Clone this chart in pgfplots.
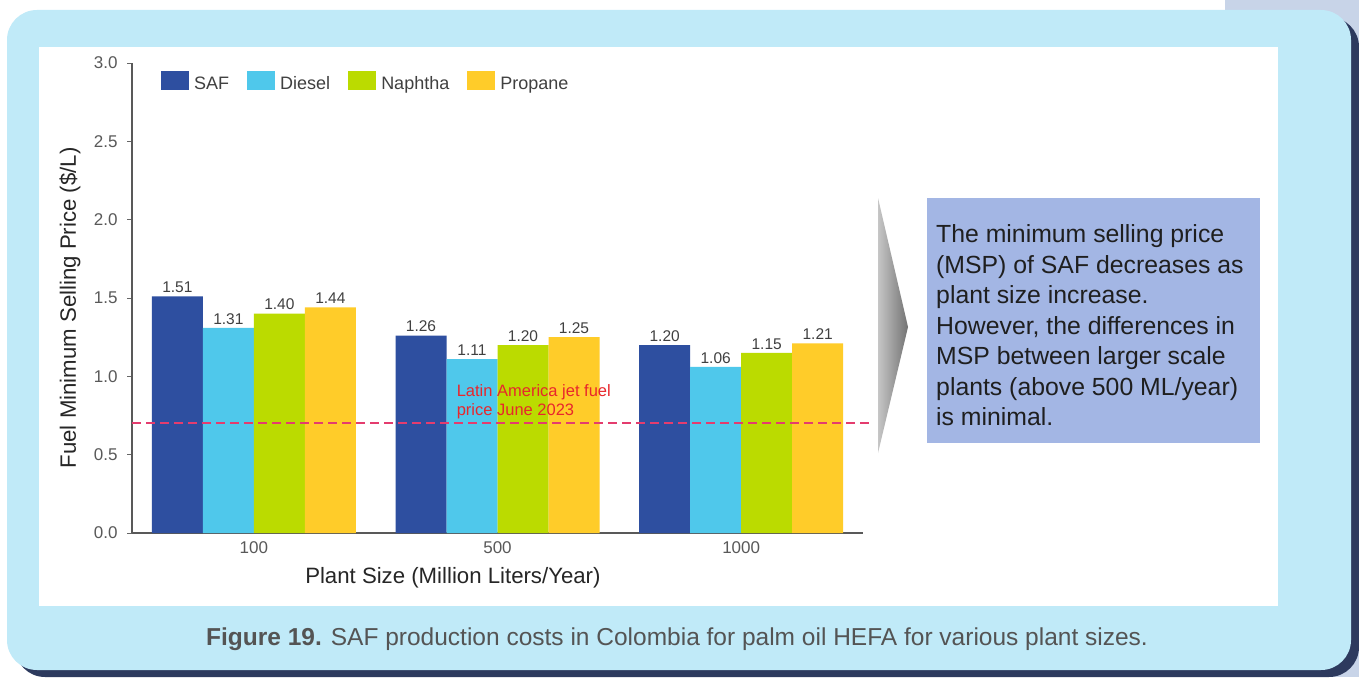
\documentclass[border=0pt]{standalone}
\usepackage{fontspec}
\setmainfont{Liberation Sans}
\usepackage{pgfplots}
\pgfplotsset{compat=1.18}
\definecolor{saf}{HTML}{2E4FA0}
\definecolor{diesel}{HTML}{4FC8EB}
\definecolor{naphtha}{HTML}{BBDB00}
\definecolor{propane}{HTML}{FFCC29}
\definecolor{panel}{HTML}{C0EAF8}
\definecolor{shadow}{HTML}{2D3A5E}
\definecolor{lav}{HTML}{C8D4E8}
\definecolor{boxblue}{HTML}{A3B6E4}
\definecolor{jetred}{HTML}{E8262C}
\definecolor{dashred}{RGB}{228,60,110}
\newcommand\fs[2]{\fontsize{#1}{#2}\selectfont}

% one style per series: explicit shift, value label on top, square legend patch
\pgfplotsset{
  bars/.style 2 args={
    ybar, bar width=51pt, bar shift=#2, fill=#1, draw=none,
    nodes near coords,
    nodes near coords style={font=\fs{15.5}{16}, text=black!75, xshift=#2,
      /pgf/number format/fixed, /pgf/number format/fixed zerofill,
      /pgf/number format/precision=2},
    legend image code/.code={\path[fill=#1] (0pt,-6pt) rectangle (28pt,13pt);}
  }
}

\begin{document}
\begin{tikzpicture}
\useasboundingbox (0,0) rectangle (1359pt,-677pt);
\fill[white] (0,0) rectangle (1359pt,-677pt);
\fill[lav] (1225pt,0) rectangle (1359pt,-677pt);
\fill[shadow, rounded corners=30pt] (15pt,-17pt) rectangle (1359pt,-677pt);
\fill[panel, rounded corners=30pt] (7pt,-10pt) rectangle (1351pt,-670pt);
\fill[white] (39pt,-47pt) rectangle (1278pt,-606pt);

\begin{axis}[
  at={(132pt,-533pt)}, anchor=south west,
  scale only axis, width=731pt, height=470pt,
  xmin=-0.5, xmax=2.5, ymin=0, ymax=3,
  axis x line*=bottom, axis y line*=left,
  axis line style={draw=black!65, line width=1.2pt},
  xtick={0,1,2}, xticklabels={100,500,1000},
  x tick style={draw=none},
  ytick={0,0.5,1,1.5,2,2.5,3},
  y tick style={draw=black!60, line width=1pt},
  tick align=outside, major tick length=5pt,
  /pgf/number format/assume math mode=true,
  y tick label style={/pgf/number format/fixed, /pgf/number format/fixed zerofill,
    /pgf/number format/precision=1, xshift=-6pt},
  tick label style={font=\fs{17}{17}, text=black!65},
  xlabel={Plant Size (Million Liters/Year)},
  ylabel={Fuel Minimum Selling Price (\$/L)},
  label style={font=\fs{22.2}{22}, text=black!85},
  xlabel style={at={(axis description cs:0.439,-0.096)}, anchor=center},
  ylabel style={at={(axis description cs:-0.085,0.479)}, anchor=center},
  legend columns=4,
  legend style={draw=none, fill=none, inner sep=0pt,
    at={(axis description cs:0.0397,0.983)}, anchor=north west,
    font=\fs{18}{18}, text=black!75,
    /tikz/every odd column/.append style={column sep=3pt},
    /tikz/every even column/.append style={column sep=16pt}},
  clip=false,
]
\addplot[bars={saf}{-76.5pt}] coordinates {(0,1.51) (1,1.26) (2,1.20)};
\addplot[bars={diesel}{-25.5pt}] coordinates {(0,1.31) (1,1.11) (2,1.06)};
\addplot[bars={naphtha}{25.5pt}] coordinates {(0,1.40) (1,1.20) (2,1.15)};
\addplot[bars={propane}{76.5pt}] coordinates {(0,1.44) (1,1.25) (2,1.21)};
\legend{SAF, Diesel, Naphtha, Propane}
% jet fuel reference price (0.70 $/L)
\draw[draw=dashred, line width=2.2pt, dash pattern=on 9pt off 5pt]
  (axis cs:-0.5,0.70) -- (axis cs:2.545,0.70);
\node[anchor=west, align=left, font=\fs{16.5}{19}, text=jetred, inner sep=0pt]
  at (axis cs:0.832,0.84) {Latin America jet fuel\\price June 2023};
\end{axis}

% arrow and comment box
\shade[left color=gray!45, right color=black!55] (878pt,-198pt) -- (908pt,-327pt) -- (878pt,-453pt) -- cycle;
\fill[boxblue] (927pt,-198pt) rectangle (1260pt,-443pt);
\node[anchor=north west, align=left, inner sep=0pt, font=\fs{24.8}{30.5}, text=black!88]
  at (936pt,-224.5pt) {The minimum selling price\\(MSP) of SAF decreases as\\plant size increase.\\However, the differences in\\MSP between larger scale\\plants (above 500 ML/year)\\is minimal.};

% caption
\node[anchor=base, inner sep=0pt, font=\fs{24.5}{24}, text=black!67]
  at (677pt,-645pt) {\textbf{Figure 19.} SAF production costs in Colombia for palm oil HEFA for various plant sizes.};
\end{tikzpicture}
\end{document}
